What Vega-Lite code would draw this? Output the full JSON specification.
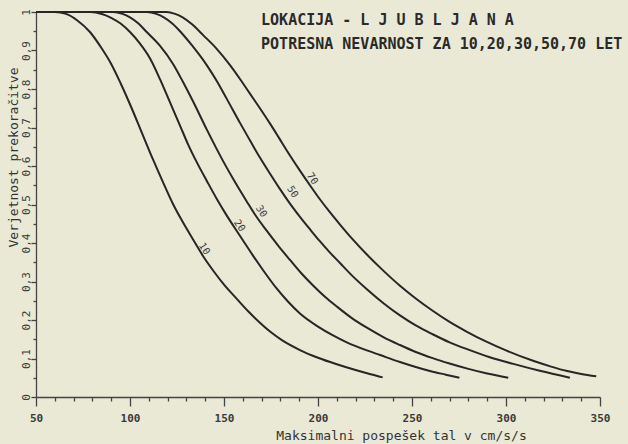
{
  "$schema": "https://vega.github.io/schema/vega-lite/v6.json",
  "width": 564,
  "height": 385,
  "autosize": {"type": "none"},
  "padding": {"left": 36, "top": 12, "right": 28, "bottom": 47},
  "background": "#e9e9d6",
  "config": {
    "view": {"stroke": null},
    "font": "DejaVu Sans Mono"
  },
  "datasets": {
    "curves": [
      {"T": "10", "a": 50, "p": 1}, {"T": "10", "a": 60, "p": 1}, {"T": "10", "a": 66, "p": 0.995}, {"T": "10", "a": 72, "p": 0.978}, {"T": "10", "a": 78.7, "p": 0.948}, {"T": "10", "a": 85, "p": 0.905}, {"T": "10", "a": 90, "p": 0.865}, {"T": "10", "a": 95, "p": 0.815}, {"T": "10", "a": 100.9, "p": 0.75}, {"T": "10", "a": 106, "p": 0.69}, {"T": "10", "a": 112.4, "p": 0.615}, {"T": "10", "a": 118, "p": 0.553}, {"T": "10", "a": 123, "p": 0.5}, {"T": "10", "a": 128, "p": 0.455}, {"T": "10", "a": 133.7, "p": 0.408}, {"T": "10", "a": 139, "p": 0.365}, {"T": "10", "a": 144.3, "p": 0.328}, {"T": "10", "a": 150, "p": 0.292}, {"T": "10", "a": 156.8, "p": 0.255}, {"T": "10", "a": 163, "p": 0.222}, {"T": "10", "a": 169.1, "p": 0.193}, {"T": "10", "a": 175, "p": 0.168}, {"T": "10", "a": 181, "p": 0.147}, {"T": "10", "a": 190.4, "p": 0.122}, {"T": "10", "a": 200, "p": 0.102}, {"T": "10", "a": 210, "p": 0.085}, {"T": "10", "a": 220, "p": 0.07}, {"T": "10", "a": 228, "p": 0.059}, {"T": "10", "a": 234.4, "p": 0.051},
      {"T": "20", "a": 50, "p": 1}, {"T": "20", "a": 79, "p": 1}, {"T": "20", "a": 85, "p": 0.995}, {"T": "20", "a": 90, "p": 0.985}, {"T": "20", "a": 95, "p": 0.97}, {"T": "20", "a": 100, "p": 0.948}, {"T": "20", "a": 105, "p": 0.92}, {"T": "20", "a": 110.6, "p": 0.88}, {"T": "20", "a": 116, "p": 0.825}, {"T": "20", "a": 121.3, "p": 0.765}, {"T": "20", "a": 126.6, "p": 0.705}, {"T": "20", "a": 131, "p": 0.655}, {"T": "20", "a": 135.5, "p": 0.61}, {"T": "20", "a": 141, "p": 0.56}, {"T": "20", "a": 146.1, "p": 0.515}, {"T": "20", "a": 151, "p": 0.475}, {"T": "20", "a": 156, "p": 0.437}, {"T": "20", "a": 161, "p": 0.4}, {"T": "20", "a": 165.6, "p": 0.366}, {"T": "20", "a": 171, "p": 0.328}, {"T": "20", "a": 178, "p": 0.282}, {"T": "20", "a": 184, "p": 0.248}, {"T": "20", "a": 190.4, "p": 0.217}, {"T": "20", "a": 200, "p": 0.183}, {"T": "20", "a": 208, "p": 0.16}, {"T": "20", "a": 215.3, "p": 0.142}, {"T": "20", "a": 226, "p": 0.121}, {"T": "20", "a": 233, "p": 0.109}, {"T": "20", "a": 243.6, "p": 0.091}, {"T": "20", "a": 252, "p": 0.078}, {"T": "20", "a": 260, "p": 0.067}, {"T": "20", "a": 268, "p": 0.058}, {"T": "20", "a": 275.2, "p": 0.05},
      {"T": "30", "a": 50, "p": 1}, {"T": "30", "a": 91, "p": 1}, {"T": "30", "a": 96, "p": 0.995}, {"T": "30", "a": 100, "p": 0.986}, {"T": "30", "a": 104.5, "p": 0.97}, {"T": "30", "a": 108.9, "p": 0.948}, {"T": "30", "a": 116, "p": 0.912}, {"T": "30", "a": 122.9, "p": 0.865}, {"T": "30", "a": 128, "p": 0.82}, {"T": "30", "a": 133.5, "p": 0.768}, {"T": "30", "a": 140.8, "p": 0.695}, {"T": "30", "a": 149.6, "p": 0.612}, {"T": "30", "a": 156, "p": 0.557}, {"T": "30", "a": 162.1, "p": 0.508}, {"T": "30", "a": 167, "p": 0.47}, {"T": "30", "a": 172.7, "p": 0.432}, {"T": "30", "a": 179, "p": 0.392}, {"T": "30", "a": 185.1, "p": 0.356}, {"T": "30", "a": 191, "p": 0.322}, {"T": "30", "a": 197.5, "p": 0.289}, {"T": "30", "a": 204, "p": 0.259}, {"T": "30", "a": 210, "p": 0.235}, {"T": "30", "a": 218, "p": 0.205}, {"T": "30", "a": 226, "p": 0.18}, {"T": "30", "a": 235, "p": 0.155}, {"T": "30", "a": 243.6, "p": 0.135}, {"T": "30", "a": 252, "p": 0.117}, {"T": "30", "a": 261, "p": 0.101}, {"T": "30", "a": 270, "p": 0.087}, {"T": "30", "a": 280, "p": 0.073}, {"T": "30", "a": 290, "p": 0.061}, {"T": "30", "a": 301.2, "p": 0.05},
      {"T": "50", "a": 50, "p": 1}, {"T": "50", "a": 109, "p": 1}, {"T": "50", "a": 114, "p": 0.995}, {"T": "50", "a": 118, "p": 0.986}, {"T": "50", "a": 122.5, "p": 0.97}, {"T": "50", "a": 126.6, "p": 0.95}, {"T": "50", "a": 133, "p": 0.913}, {"T": "50", "a": 140.8, "p": 0.862}, {"T": "50", "a": 146, "p": 0.822}, {"T": "50", "a": 151.4, "p": 0.775}, {"T": "50", "a": 158.5, "p": 0.712}, {"T": "50", "a": 164, "p": 0.665}, {"T": "50", "a": 169.1, "p": 0.622}, {"T": "50", "a": 174.5, "p": 0.58}, {"T": "50", "a": 179.8, "p": 0.54}, {"T": "50", "a": 185, "p": 0.503}, {"T": "50", "a": 190.4, "p": 0.468}, {"T": "50", "a": 196, "p": 0.434}, {"T": "50", "a": 201.1, "p": 0.404}, {"T": "50", "a": 206, "p": 0.377}, {"T": "50", "a": 211.7, "p": 0.348}, {"T": "50", "a": 218, "p": 0.316}, {"T": "50", "a": 226, "p": 0.28}, {"T": "50", "a": 235, "p": 0.243}, {"T": "50", "a": 243.6, "p": 0.212}, {"T": "50", "a": 252, "p": 0.186}, {"T": "50", "a": 261, "p": 0.163}, {"T": "50", "a": 270, "p": 0.142}, {"T": "50", "a": 280, "p": 0.123}, {"T": "50", "a": 291, "p": 0.104}, {"T": "50", "a": 303.9, "p": 0.086}, {"T": "50", "a": 318, "p": 0.068}, {"T": "50", "a": 334, "p": 0.05},
      {"T": "70", "a": 50, "p": 1}, {"T": "70", "a": 119.5, "p": 1}, {"T": "70", "a": 124, "p": 0.995}, {"T": "70", "a": 128, "p": 0.986}, {"T": "70", "a": 133, "p": 0.968}, {"T": "70", "a": 138.9, "p": 0.94}, {"T": "70", "a": 146, "p": 0.905}, {"T": "70", "a": 153.2, "p": 0.862}, {"T": "70", "a": 158.5, "p": 0.826}, {"T": "70", "a": 163.8, "p": 0.788}, {"T": "70", "a": 169.1, "p": 0.75}, {"T": "70", "a": 174.5, "p": 0.71}, {"T": "70", "a": 179, "p": 0.675}, {"T": "70", "a": 183.3, "p": 0.641}, {"T": "70", "a": 190.4, "p": 0.588}, {"T": "70", "a": 196, "p": 0.548}, {"T": "70", "a": 201.1, "p": 0.513}, {"T": "70", "a": 206, "p": 0.482}, {"T": "70", "a": 211.7, "p": 0.448}, {"T": "70", "a": 218, "p": 0.412}, {"T": "70", "a": 226, "p": 0.37}, {"T": "70", "a": 235, "p": 0.327}, {"T": "70", "a": 243.6, "p": 0.289}, {"T": "70", "a": 252, "p": 0.256}, {"T": "70", "a": 261, "p": 0.224}, {"T": "70", "a": 270, "p": 0.195}, {"T": "70", "a": 279, "p": 0.17}, {"T": "70", "a": 289, "p": 0.145}, {"T": "70", "a": 300, "p": 0.121}, {"T": "70", "a": 314.4, "p": 0.094}, {"T": "70", "a": 324, "p": 0.079}, {"T": "70", "a": 332, "p": 0.068}, {"T": "70", "a": 340, "p": 0.06}, {"T": "70", "a": 348, "p": 0.054}
    ],
    "curveLabels": [
      {"a": 139.5, "p": 0.385, "label": "10"},
      {"a": 158.2, "p": 0.445, "label": "20"},
      {"a": 169.8, "p": 0.482, "label": "30"},
      {"a": 186.5, "p": 0.533, "label": "50"},
      {"a": 197, "p": 0.567, "label": "70"}
    ],
    "header": [
      {"a": 169.7, "p": 0.978, "text": "LOKACIJA - L J U B L J A N A"},
      {"a": 169.7, "p": 0.918, "text": "POTRESNA NEVARNOST ZA 10,20,30,50,70 LET"}
    ]
  },
  "layer": [
    {
      "data": {"name": "curves"},
      "mark": {"type": "line", "interpolate": "monotone", "color": "#262626", "strokeWidth": 2},
      "encoding": {
        "x": {
          "field": "a", "type": "quantitative",
          "scale": {"domain": [50, 350], "nice": false, "zero": false},
          "axis": {
            "title": "Maksimalni pospešek tal v cm/s/s",
            "titleFont": "DejaVu Sans Mono", "titleFontSize": 13, "titleFontWeight": "normal", "titleColor": "#333333",
            "titleX": 365, "titleY": 38, "titleAlign": "center", "titleBaseline": "middle", "titleAnchor": null,
            "values": [50, 60, 70, 80, 90, 100, 110, 120, 130, 140, 150, 160, 170, 180, 190, 200, 210, 220, 230, 240, 250, 260, 270, 280, 290, 300, 310, 320, 330, 340, 350],
            "tickCount": 200,
            "labelExpr": "datum.value % 50 == 0 ? datum.label : ''",
            "labelFont": "DejaVu Sans Mono", "labelFontSize": 11, "labelFontWeight": "bold", "labelColor": "#3a3a3a",
            "labelPadding": 6, "labelFlush": false, "labelOverlap": false,
            "grid": false, "domainColor": "#444444", "domainWidth": 1.3,
            "tickColor": "#444444", "tickWidth": 1.3,
            "tickSize": {"condition": {"test": "datum.value % 50 == 0", "value": 9}, "value": 4}
          }
        },
        "y": {
          "field": "p", "type": "quantitative",
          "scale": {"domain": [0, 1], "nice": false},
          "axis": {
            "title": "Verjetnost prekoračitve",
            "titleFont": "DejaVu Sans Mono", "titleFontSize": 13, "titleFontWeight": "normal", "titleColor": "#333333",
            "titleAngle": 270, "titleX": -23, "titleY": 145, "titleAlign": "center", "titleBaseline": "middle", "titleAnchor": null,
            "values": [0, 0.05, 0.1, 0.15, 0.2, 0.25, 0.3, 0.35, 0.4, 0.45, 0.5, 0.55, 0.6, 0.65, 0.7, 0.75, 0.8, 0.85, 0.9, 0.95, 1],
            "tickCount": 200,
            "labelExpr": "round(datum.value * 100) % 10 == 0 ? replace(format(datum.value, '.1~f'), '.', ',') : ''",
            "labelAngle": 270, "labelAlign": "center", "labelBaseline": "bottom",
            "labelFont": "DejaVu Sans Mono", "labelFontSize": 11, "labelColor": "#3a3a3a",
            "labelPadding": 0, "labelFlush": false, "labelOverlap": false,
            "grid": false, "domainColor": "#444444", "domainWidth": 1.3,
            "tickColor": "#444444", "tickWidth": 1.3,
            "tickSize": {"condition": {"test": "round(datum.value * 100) % 10 == 0", "value": 5}, "value": 3}
          }
        },
        "detail": {"field": "T", "type": "nominal"}
      }
    },
    {
      "data": {"name": "curveLabels"},
      "mark": {"type": "text", "angle": 57, "font": "DejaVu Sans Mono", "fontSize": 10, "color": "#3a3a3a", "align": "center", "baseline": "middle"},
      "encoding": {
        "x": {"field": "a", "type": "quantitative"},
        "y": {"field": "p", "type": "quantitative"},
        "text": {"field": "label", "type": "nominal"}
      }
    },
    {
      "data": {"name": "header"},
      "mark": {"type": "text", "font": "DejaVu Sans Mono", "fontSize": 15, "fontWeight": "bold", "color": "#2a2a2a", "align": "left", "baseline": "middle"},
      "encoding": {
        "x": {"field": "a", "type": "quantitative"},
        "y": {"field": "p", "type": "quantitative"},
        "text": {"field": "text", "type": "nominal"}
      }
    }
  ]
}
